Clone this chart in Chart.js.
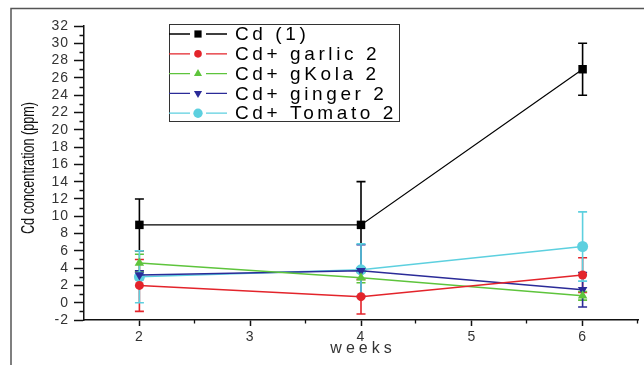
<!DOCTYPE html>
<html><head><meta charset="utf-8">
<script src="https://cdn.jsdelivr.net/npm/chart.js@4/dist/chart.umd.min.js"></script>
<style>html,body{margin:0;padding:0;background:#fff}#wrap{width:644px;height:365px;position:relative}</style>
</head><body><div id="wrap"><canvas id="c" width="644" height="365"></canvas></div>
<script>
// ---- data ----
const weeks = [2, 4, 6];
const xTicks = [2, 3, 4, 5, 6];
const xMinorTicks = [2.5, 3.5, 4.5, 5.5, 6.5];
const yTicks = [-2, 0, 2, 4, 6, 8, 10, 12, 14, 16, 18, 20, 22, 24, 26, 28, 30, 32];
const yMinorTicks = [-1, 1, 3, 5, 7, 9, 11, 13, 15, 17, 19, 21, 23, 25, 27, 29, 31];
const seriesNames = ['Cd (1)', 'Cd+ garlic 2', 'Cd+ gKola 2', 'Cd+ ginger 2', 'Cd+ Tomato 2'];
const cd1 = [9, 9, 27];
const cd1Err = [3, 5, 3];
const garlic = [2, 0.7, 3.2];
const garlicErr = [3, 2, 2];
const gkola = [4.6, 2.9, 0.8];
const gkolaErr = [1, 0.6, 0.5];
const ginger = [3.2, 3.7, 1.5];
const gingerErr = [0.5, 3, 2];
const tomato = [3.0, 3.8, 6.5];
const tomatoErr = [3, 3, 4];
const xTitle = 'weeks';
const yTitle = 'Cd concentration (ppm)';

const FONT = "'Liberation Sans', Arial, sans-serif";
const values = [cd1, garlic, gkola, ginger, tomato];
const errors = [cd1Err, garlicErr, gkolaErr, gingerErr, tomatoErr];
const colors = ['#000000', '#e3242b', '#5ec43c', '#2b2b98', '#5dd0df'];
const styles = [
  {pointStyle: 'rect', radius: 6, rotation: 0},
  {pointStyle: 'circle', radius: 4.5, rotation: 0},
  {pointStyle: 'triangle', radius: 5.5, rotation: 0},
  {pointStyle: 'triangle', radius: 5.5, rotation: 180},
  {pointStyle: 'circle', radius: 5.5, rotation: 0}
];

const datasets = seriesNames.map((name, i) => ({
  label: name,
  data: weeks.map((w, j) => ({x: w, y: values[i][j]})),
  borderColor: colors[i],
  backgroundColor: colors[i],
  borderWidth: i === 0 ? 1.2 : 1.5,
  pointStyle: styles[i].pointStyle,
  pointRadius: styles[i].radius,
  pointRotation: styles[i].rotation,
  pointBorderWidth: 0,
  tension: 0,
  clip: false
}));

const framePlugin = {
  id: 'frame',
  beforeDraw(chart) {
    const ctx = chart.ctx;
    ctx.save();
    ctx.fillStyle = '#fff';
    ctx.fillRect(0, 0, chart.width, chart.height);
    ctx.strokeStyle = '#555';
    ctx.lineWidth = 1.5;
    ctx.beginPath();
    ctx.moveTo(11, 365); ctx.lineTo(11, 8.5); ctx.lineTo(644, 8.5);
    ctx.stroke();
    ctx.restore();
    ctx.letterSpacing = '1px';
  },
  beforeDatasetsDraw(chart) {
    const ctx = chart.ctx, xs = chart.scales.x, ys = chart.scales.y;
    ctx.save();
    values.forEach((vals, i) => {
      ctx.strokeStyle = colors[i];
      ctx.lineWidth = 1.6;
      vals.forEach((v, j) => {
        const px = xs.getPixelForValue(weeks[j]);
        const t = ys.getPixelForValue(v + errors[i][j]);
        const b = ys.getPixelForValue(v - errors[i][j]);
        ctx.beginPath();
        ctx.moveTo(px, t); ctx.lineTo(px, b);
        ctx.moveTo(px - 4.5, t); ctx.lineTo(px + 4.5, t);
        ctx.moveTo(px - 4.5, b); ctx.lineTo(px + 4.5, b);
        ctx.stroke();
      });
    });
    ctx.restore();
  },
  afterDraw(chart) {
    const ctx = chart.ctx, xs = chart.scales.x, ys = chart.scales.y, a = chart.chartArea;
    ctx.save();
    // minor ticks
    ctx.strokeStyle = '#111';
    ctx.lineWidth = 1.3;
    ctx.beginPath();
    xMinorTicks.forEach(v => {
      const px = Math.round(xs.getPixelForValue(v)) - 0.5;
      ctx.moveTo(px, a.bottom); ctx.lineTo(px, a.bottom + 3.5);
    });
    yMinorTicks.forEach(v => {
      const py = Math.round(ys.getPixelForValue(v)) + 0.5;
      ctx.moveTo(a.left, py); ctx.lineTo(a.left - 4.5, py);
    });
    ctx.stroke();

    // legend
    const lx = 169, ly = 24, lw = 230, lh = 97;
    ctx.strokeStyle = '#333';
    ctx.lineWidth = 1;
    ctx.strokeRect(lx + 0.5, ly + 0.5, lw, lh);
    ctx.font = '19px ' + FONT;
    ctx.letterSpacing = '3.6px';
    ctx.textBaseline = 'middle';
    ctx.textAlign = 'left';
    seriesNames.forEach((name, i) => {
      const ry = ly + 10 + i * 19.8;
      ctx.strokeStyle = colors[i];
      ctx.lineWidth = 1.3;
      ctx.beginPath();
      ctx.moveTo(lx, ry); ctx.lineTo(lx + 21, ry);
      ctx.moveTo(lx + 37, ry); ctx.lineTo(lx + 58, ry);
      ctx.stroke();
      ctx.fillStyle = colors[i];
      Chart.helpers.drawPoint(ctx, {
        pointStyle: styles[i].pointStyle,
        radius: styles[i].radius * 0.85,
        rotation: styles[i].rotation,
        borderWidth: 0
      }, lx + 29, ry);
      ctx.fillStyle = '#000';
      ctx.fillText(name, lx + 66, ry + 1);
    });

    // x title
    ctx.fillStyle = '#333';
    ctx.font = '16px ' + FONT;
    ctx.letterSpacing = '4px';
    ctx.textAlign = 'center';
    ctx.fillText(xTitle, (a.left + a.right) / 2 + 2, 349);

    // y title (condensed)
    ctx.letterSpacing = '0px';
    ctx.font = '19px ' + FONT;
    const w = ctx.measureText(yTitle).width;
    ctx.translate(29, 168);
    ctx.rotate(-Math.PI / 2);
    ctx.scale(132 / w, 1);
    ctx.fillStyle = '#111';
    ctx.fillText(yTitle, 0, 0);
    ctx.restore();
  }
};

new Chart(document.getElementById('c'), {
  type: 'line',
  data: {datasets},
  options: {
    responsive: false,
    animation: false,
    devicePixelRatio: 1,
    layout: {padding: {top: 26, right: 1, left: 0, bottom: 0}},
    plugins: {legend: {display: false}, tooltip: {enabled: false}},
    scales: {
      x: {
        type: 'linear', min: 1.5, max: 6.5,
        afterBuildTicks: s => { s.ticks = xTicks.map(v => ({value: v})); },
        afterFit: s => { s.height = 45; },
        ticks: {color: '#333', font: {size: 14, family: FONT}, padding: 3, maxRotation: 0, autoSkip: false},
        grid: {drawOnChartArea: false, tickLength: 6, tickColor: '#111', tickWidth: 1.5},
        border: {color: '#111', width: 1.5}
      },
      y: {
        type: 'linear', min: -2, max: 32,
        afterBuildTicks: s => { s.ticks = yTicks.map(v => ({value: v})); },
        afterFit: s => { s.width = 84; },
        ticks: {color: '#333', font: {size: 14, family: FONT}, padding: 5, autoSkip: false},
        grid: {drawOnChartArea: false, tickLength: 10, tickColor: '#111', tickWidth: 1.5},
        border: {color: '#111', width: 1.5}
      }
    }
  },
  plugins: [framePlugin]
});
</script></body></html>
